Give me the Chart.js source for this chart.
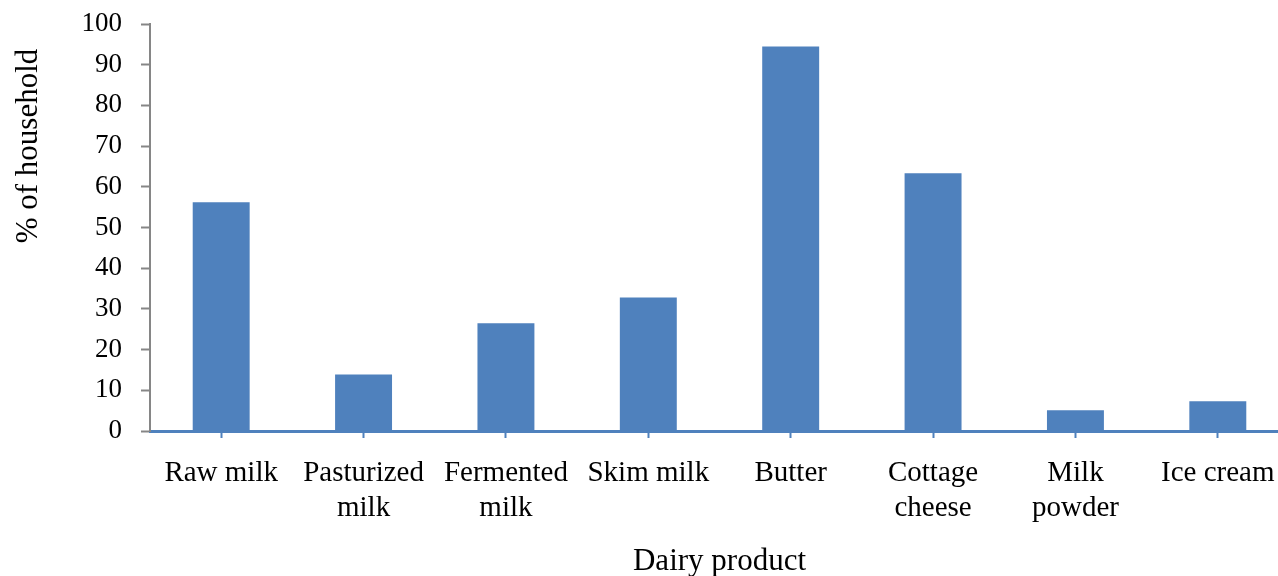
<!DOCTYPE html>
<html>
<head>
<meta charset="utf-8">
<script src="https://cdn.jsdelivr.net/npm/chart.js@4.4.1/dist/chart.umd.min.js"></script>
<style>
  html, body { margin: 0; padding: 0; background: #ffffff; overflow: hidden; }
  #wrap { width: 1290px; height: 576px; }
</style>
</head>
<body>
<div id="wrap"><canvas id="chart" width="1290" height="576"></canvas></div>
<script>
// Share of households consuming each dairy product
const categories = [
  ['Raw milk'],
  ['Pasturized', 'milk'],
  ['Fermented', 'milk'],
  ['Skim milk'],
  ['Butter'],
  ['Cottage', 'cheese'],
  ['Milk', 'powder'],
  ['Ice cream']
];
const householdShare = [56.2, 13.9, 26.5, 32.8, 94.5, 63.3, 5.1, 7.3];
const yTicks = [0, 10, 20, 30, 40, 50, 60, 70, 80, 90, 100];

const xTitle = 'Dairy product';
const yTitle = '% of household';

const SERIF = '"Liberation Serif", "Times New Roman", serif';
const BAR_BLUE = '#4F81BD';
const AXIS_GREY = '#868686';

// Axis titles drawn at fixed offsets around the plot area
const axisTitles = {
  id: 'axisTitles',
  afterDraw(chart) {
    const { ctx, chartArea } = chart;
    ctx.save();
    ctx.fillStyle = '#000000';
    ctx.font = '31px ' + SERIF;
    ctx.textAlign = 'center';
    ctx.textBaseline = 'alphabetic';
    ctx.fillText(xTitle, (chartArea.left + chartArea.right) / 2, 570);
    ctx.translate(37, 146);
    ctx.rotate(-Math.PI / 2);
    ctx.font = '31px ' + SERIF;
    ctx.fillText(yTitle, 0, 0);
    ctx.restore();
  }
};

new Chart(document.getElementById('chart'), {
  type: 'bar',
  data: {
    labels: categories,
    datasets: [{
      data: householdShare,
      backgroundColor: BAR_BLUE,
      borderWidth: 0,
      barPercentage: 0.4,
      categoryPercentage: 1.0
    }]
  },
  options: {
    responsive: false,
    animation: false,
    devicePixelRatio: 1,
    layout: { padding: { top: 24, right: 1, left: 0, bottom: 0 } },
    plugins: {
      legend: { display: false },
      tooltip: { enabled: false }
    },
    scales: {
      x: {
        offset: true,
        grid: {
          offset: false,
          drawOnChartArea: false,
          drawTicks: true,
          tickLength: 7,
          tickWidth: 2,
          tickColor: BAR_BLUE
        },
        border: { display: true, color: BAR_BLUE, width: 3 },
        ticks: {
          autoSkip: false,
          maxRotation: 0,
          minRotation: 0,
          padding: 18,
          color: '#000000',
          font: { family: SERIF, size: 29, lineHeight: 1.2 }
        },
        afterFit(scale) {
          scale.height = 145;
          scale.paddingLeft = 0;
          scale.paddingRight = 0;
        }
      },
      y: {
        min: 0,
        max: 100,
        afterBuildTicks(scale) {
          scale.ticks = yTicks.map(v => ({ value: v }));
        },
        grid: {
          drawOnChartArea: false,
          drawTicks: true,
          tickLength: 9,
          tickWidth: 2,
          tickColor: AXIS_GREY
        },
        border: { display: true, color: AXIS_GREY, width: 2 },
        ticks: {
          padding: 19,
          color: '#000000',
          font: { family: SERIF, size: 27 }
        },
        afterFit(scale) {
          scale.width = 150;
          scale.paddingTop = 0;
          scale.paddingBottom = 0;
        }
      }
    }
  },
  plugins: [axisTitles]
});
</script>
</body>
</html>
